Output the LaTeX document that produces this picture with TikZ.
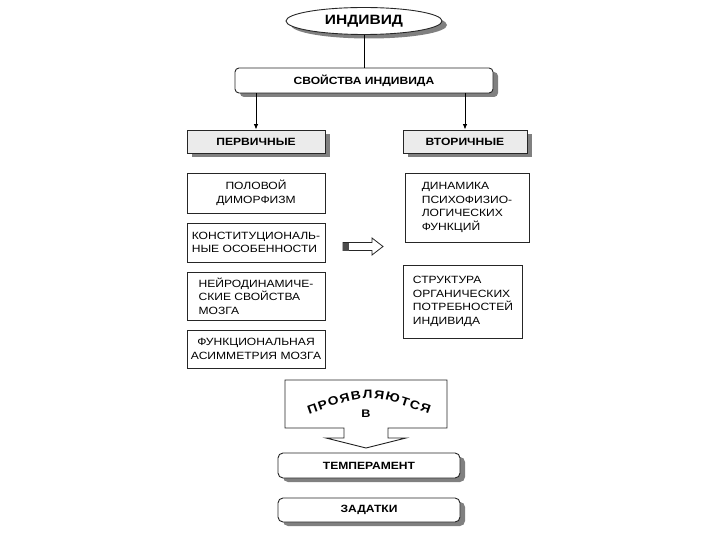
\documentclass[tikz,border=0pt]{standalone}
\usepackage{fontspec}
\newfontfamily\diafont[FakeStretch=1.15]{Liberation Sans}
\usetikzlibrary{arrows.meta,shadows,shapes.geometric,decorations.text}

\begin{document}
\begin{tikzpicture}[x=1pt,y=-1pt,>={Latex[length=5.5pt,width=4.5pt]},
  font=\diafont\fontsize{10.5}{13.5}\selectfont,
  shade/.style={drop shadow={shadow xshift=5pt,shadow yshift=-4pt,fill=black!50,opacity=1}},
  block/.style={draw=black!85,line width=0.9pt,fill=white,inner sep=2pt},
  headbox/.style={block,font=\diafont\bfseries\fontsize{10.5}{13}\selectfont},
  leftbox/.style={block,minimum width=138pt},
  rightbox/.style={block,minimum width=124pt,align=left}]
  \useasboundingbox (0,0) rectangle (720,540);

  \node[headbox,ellipse,shade,minimum width=156pt,minimum height=27pt,
    font=\diafont\bfseries\fontsize{13.5}{15}\selectfont] (ind) at (364,21) {ИНДИВИД};
  \node[headbox,shade,rounded corners=4pt,minimum width=258pt,minimum height=25pt] (props) at (364,80.5) {СВОЙСТВА ИНДИВИДА};
  \node[headbox,shade,fill=black!8,minimum width=138pt,minimum height=23pt] (prim) at (256,141.5) {ПЕРВИЧНЫЕ};
  \node[headbox,shade,fill=black!8,minimum width=124pt,minimum height=23pt] (sec) at (465,141.5) {ВТОРИЧНЫЕ};

  \draw[line width=0.9pt] (ind) -- (props);
  \draw[->,line width=0.9pt] (props.south -| prim) -- (prim);
  \draw[->,line width=0.9pt] (props.south -| sec) -- (sec);

  \node[leftbox,minimum height=40pt,align=center] (dimorph) at (256,193) {ПОЛОВОЙ\\ДИМОРФИЗМ};
  \node[leftbox,minimum height=39pt,align=left] (constit) at (256,242.5) {КОНСТИТУЦИОНАЛЬ-\\НЫЕ ОСОБЕННОСТИ};
  \node[leftbox,minimum height=48pt,align=left] (neuro) at (256,296) {НЕЙРОДИНАМИЧЕ-\\СКИЕ СВОЙСТВА\\МОЗГА};
  \node[leftbox,minimum height=38pt,align=center] (asym) at (256,349) {ФУНКЦИОНАЛЬНАЯ\\АСИММЕТРИЯ МОЗГА};

  \node[rightbox,minimum height=69pt] (dynam) at (467,207.5) {ДИНАМИКА\\ПСИХОФИЗИО-\\ЛОГИЧЕСКИХ\\ФУНКЦИЙ};
  \node[rightbox,minimum width=119pt,minimum height=73pt] (needs) at (463,301.5) {СТРУКТУРА\\ОРГАНИЧЕСКИХ\\ПОТРЕБНОСТЕЙ\\ИНДИВИДА};

  % hollow arrow between the columns
  \coordinate (pass) at (343,246.5);
  \draw[line width=0.8pt,draw=black!85,fill=white] (pass) ++(0,-4) -- ++(29,0) -- ++(0,-4.5) -- ++(11,8.5)
    -- ++(-11,8.5) -- ++(0,-4.5) -- ++(-29,0) -- cycle;
  \fill[black!70] (pass) ++(0,-4) rectangle ++(6,8);

  % big arrow
  \coordinate (show) at (366,380);
  \draw[line width=0.9pt,draw=black!85,fill=white] (show) ++(-81,0) -- ++(162,0) -- ++(0,48) -- ++(-59,0)
    -- ++(0,10) -- ++(18,0) -- ++(-40,10) -- ++(-40,-10) -- ++(18,0) -- ++(0,-10) -- ++(-59,0) -- cycle;
  \path[decorate,decoration={text along path,text align=fit to path,
    text={|\diafont\bfseries\fontsize{12}{14}\selectfont|ПРОЯВЛЯЮТСЯ}}]
    (309,414) .. controls (369,393) .. (429,414);
  \node[font=\diafont\bfseries\fontsize{11}{12}\selectfont] (inword) at (366,414) {В};

  \node[headbox,shade,rounded corners=5pt,minimum width=182pt,minimum height=25pt] (temper) at (369,465.5) {ТЕМПЕРАМЕНТ};
  \node[headbox,shade,rounded corners=5pt,minimum width=182pt,minimum height=24pt] (inclin) at (369,510) {ЗАДАТКИ};
\end{tikzpicture}
\end{document}
